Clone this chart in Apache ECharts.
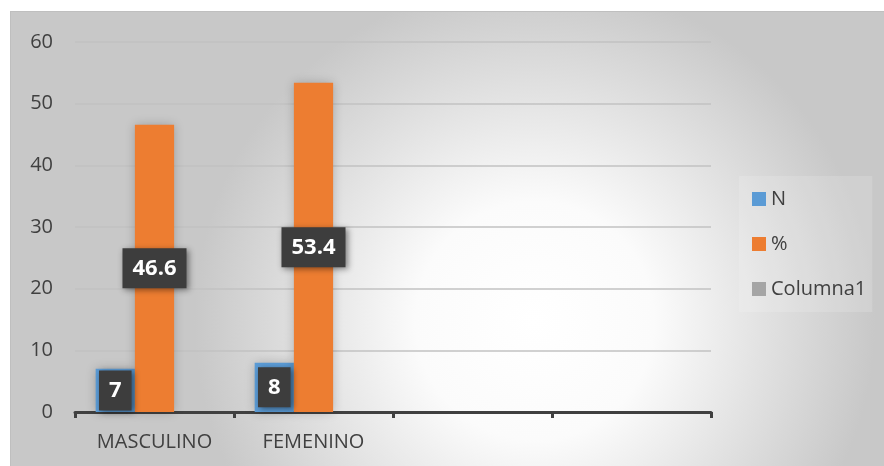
<!DOCTYPE html>
<html><head><meta charset="utf-8">
<script src="https://cdn.jsdelivr.net/npm/echarts@6/dist/echarts.min.js"></script>
<style>
html,body{margin:0;padding:0;background:#fff;width:884px;height:466px;overflow:hidden}
#c{position:absolute;left:10px;top:11px;width:873px;height:454px;border:1px solid #bfbfbf}
</style></head><body><div id="c"></div>
<script>
const categories = ['MASCULINO', 'FEMENINO', '', ''];
const seriesNames = ['N', '%', 'Columna1'];
const nValues = [7, 8, null, null];
const pctValues = [46.6, 53.4, null, null];
const col1Values = [null, null, null, null];
const yTicks = [0, 10, 20, 30, 40, 50, 60];
const colors = ['#5B9BD5', '#ED7D31', '#A5A5A5'];
const FONT = 'Open Sans';

const chart = echarts.init(document.getElementById('c'), null, {renderer: 'canvas'});
const label = {
  show: true, position: 'inside', color: '#fff', fontFamily: FONT, fontWeight: 'bold', fontSize: 22,
  backgroundColor: '#3d3d3d', padding: [7, 10, 5, 10], lineHeight: 28,
  shadowBlur: 6, shadowColor: 'rgba(0,0,0,0.45)', shadowOffsetX: 2, shadowOffsetY: 2
};
const mk = (name, data, i, withLabel) => ({
  name, type: 'bar', data, barGap: '0%', barCategoryGap: '26%',
  itemStyle: {color: colors[i], shadowBlur: 10, shadowColor: 'rgba(0,0,0,0.22)'},
  label: withLabel ? label : {show: false}
});
chart.setOption({
  backgroundColor: {type: 'radial', x: 0.6, y: 0.68, r: 0.75,
    colorStops: [{offset: 0, color: '#ffffff'}, {offset: 0.35, color: '#fbfbfb'}, {offset: 1, color: '#c8c8c8'}]},
  animation: false,
  textStyle: {fontFamily: FONT},
  grid: {left: 64, right: 173, top: 30, bottom: 54},
  legend: {
    orient: 'vertical', left: 728, top: 164, padding: [12, 6, 12, 13], itemWidth: 14, itemHeight: 14, itemGap: 23,
    backgroundColor: 'rgba(255,255,255,0.15)',
    icon: 'rect', data: seriesNames,
    textStyle: {fontFamily: FONT, fontSize: 20, color: '#404040', lineHeight: 22}
  },
  xAxis: {
    type: 'category', data: categories,
    axisLine: {lineStyle: {color: '#404040', width: 3}},
    axisTick: {show: true, length: 6, lineStyle: {color: '#404040', width: 3}},
    axisLabel: {fontFamily: FONT, fontSize: 20, color: '#404040', margin: 20}
  },
  yAxis: {
    type: 'value', min: 0, max: 60, interval: 10,
    axisLine: {show: false}, axisTick: {show: false},
    splitLine: {lineStyle: {color: '#c2c2c2', width: 1.5}},
    axisLabel: {fontFamily: FONT, fontSize: 20, color: '#404040', margin: 22,
      formatter: v => yTicks.includes(v) ? String(v) : ''}
  },
  series: [mk('N', nValues, 0, true), mk('%', pctValues, 1, true), mk('Columna1', col1Values, 2, false)]
});
</script></body></html>
